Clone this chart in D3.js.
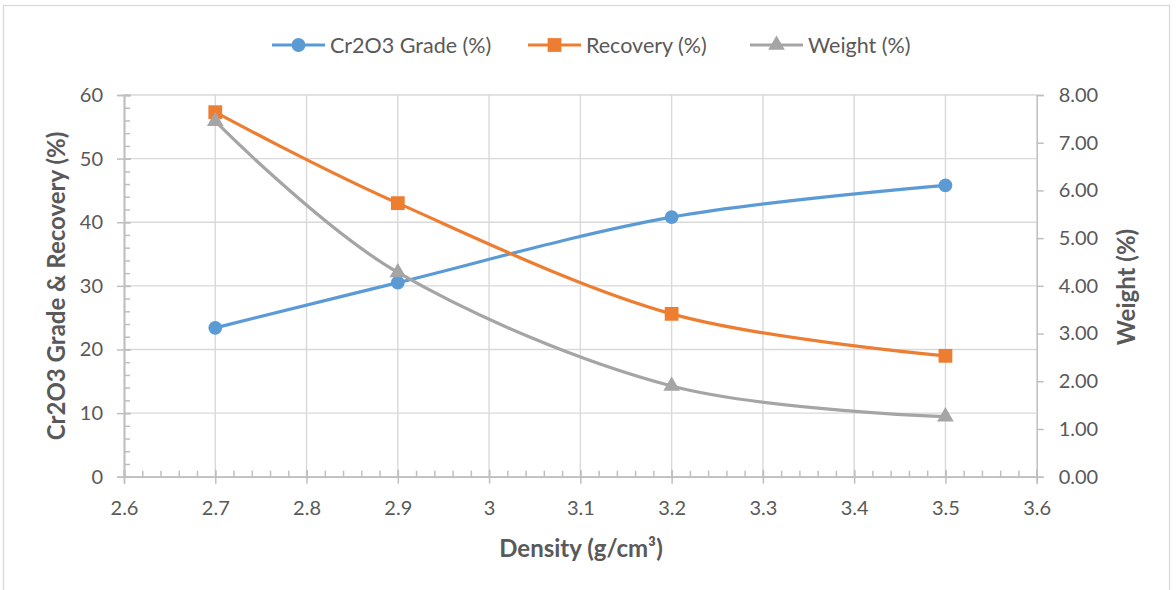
<!DOCTYPE html>
<html>
<head>
<meta charset="utf-8">
<script src="https://cdn.jsdelivr.net/npm/d3@7"></script>
<style>
  html, body { margin: 0; padding: 0; background: #fff; }
  svg { display: block; }
  text { font-family: Lato, "Open Sans", sans-serif; fill: #595959; }
</style>
</head>
<body>
<svg id="chart" width="1176" height="590"></svg>
<script>
// Density of each separation fraction (g/cm³)
const density = [2.7, 2.9, 3.2, 3.5];
// Cr2O3 grade of the float fraction (%)
const grade = [23.4, 30.5, 40.8, 45.8];
// Cr2O3 recovery (%)
const recovery = [57.3, 43.0, 25.6, 19.0];
// Mass yield (%), read against the right axis
const weight = [7.45, 4.28, 1.90, 1.26];

const xTicks = [2.6, 2.7, 2.8, 2.9, 3.0, 3.1, 3.2, 3.3, 3.4, 3.5, 3.6];
const leftTicks = [0, 10, 20, 30, 40, 50, 60];
const rightTicks = [0, 1, 2, 3, 4, 5, 6, 7, 8];

const seriesNames = ["Cr2O3 Grade (%)", "Recovery (%)", "Weight (%)"];
const colors = ["#5B9BD5", "#ED7D31", "#A5A5A5"];

const svg = d3.select("#chart");
const plot = { left: 124, right: 1036.7, top: 95, bottom: 476.7 };

const x = d3.scaleLinear().domain([2.6, 3.6]).range([plot.left, plot.right]);
const yL = d3.scaleLinear().domain([0, 60]).range([plot.bottom, plot.top]);
const yR = d3.scaleLinear().domain([0, 8]).range([plot.bottom, plot.top]);

// chart frame
svg.append("rect")
  .attr("x", 3.5).attr("y", 5.5).attr("width", 1166).attr("height", 600)
  .attr("fill", "none").attr("stroke", "#d9d9d9").attr("stroke-width", 1.3);

// gridlines
const grid = svg.append("g").attr("stroke", "#d9d9d9").attr("stroke-width", 1.4);
grid.selectAll(".gv").data(xTicks.slice(1, -1)).join("line")
  .attr("x1", d => x(d)).attr("x2", d => x(d))
  .attr("y1", plot.top).attr("y2", plot.bottom);
grid.selectAll(".gh").data(leftTicks.slice(1)).join("line")
  .attr("x1", plot.left).attr("x2", plot.right)
  .attr("y1", d => yL(d)).attr("y2", d => yL(d));

function styleAxis(g) {
  g.select(".domain").attr("stroke", "#bfbfbf").attr("stroke-width", 1.5);
  g.selectAll(".tick line").attr("stroke", "#bfbfbf").attr("stroke-width", 1.5);
  g.selectAll("text").attr("fill", "#595959").style("font-size", "20px")
    .style("font-family", "Lato, 'Open Sans', sans-serif");
}

// left axis: major ticks crossing, minor ticks inside
const minorLeft = d3.range(0, 60.001, 2);
svg.append("g").attr("transform", `translate(${plot.left},0)`)
  .call(d3.axisRight(yL).tickValues(minorLeft).tickSize(6).tickFormat(""))
  .call(styleAxis);
svg.append("g").attr("transform", `translate(${plot.left},0)`)
  .call(d3.axisRight(yL).tickValues(leftTicks).tickSize(7).tickFormat(""))
  .call(styleAxis);
svg.append("g").attr("transform", `translate(${plot.left},0)`)
  .call(d3.axisLeft(yL).tickValues(leftTicks).tickSize(7).tickPadding(14).tickFormat(d3.format("d")))
  .call(styleAxis);

// bottom axis
const minorX = d3.range(26, 36.001, 0.2).map(v => v / 10);
svg.append("g").attr("transform", `translate(0,${plot.bottom})`)
  .call(d3.axisTop(x).tickValues(minorX).tickSize(6).tickFormat(""))
  .call(styleAxis);
svg.append("g").attr("transform", `translate(0,${plot.bottom})`)
  .call(d3.axisTop(x).tickValues(xTicks).tickSize(7).tickFormat(""))
  .call(styleAxis);
svg.append("g").attr("transform", `translate(0,${plot.bottom})`)
  .call(d3.axisBottom(x).tickValues(xTicks).tickSize(7).tickPadding(17).tickFormat(d3.format("")))
  .call(styleAxis);

// right axis
svg.append("g").attr("transform", `translate(${plot.right},0)`)
  .call(d3.axisRight(yR).tickValues(rightTicks).tickSize(7).tickPadding(15).tickFormat(d3.format(".2f")))
  .call(styleAxis);

// axis titles
svg.append("text")
  .attr("transform", `translate(65,286) rotate(-90)`)
  .attr("text-anchor", "middle")
  .style("font-size", "24px").style("font-weight", "bold")
  .text("Cr2O3 Grade & Recovery (%)");
svg.append("text")
  .attr("transform", `translate(1135,287) rotate(-90)`)
  .attr("text-anchor", "middle")
  .style("font-size", "24px").style("font-weight", "bold")
  .text("Weight (%)");
svg.append("text")
  .attr("x", 581).attr("y", 557)
  .attr("text-anchor", "middle")
  .style("font-size", "24px").style("font-weight", "bold")
  .text("Density (g/cm³)");

// series
const series = [
  { values: grade, y: yL, shape: d3.symbolCircle, size: 150 },
  { values: recovery, y: yL, shape: d3.symbolSquare, size: 190 },
  { values: weight, y: yR, shape: d3.symbolTriangle, size: 120 }
];

const line = (yScale) => d3.line()
  .x(d => x(d[0])).y(d => yScale(d[1]))
  .curve(d3.curveCardinal.tension(0));

series.forEach((s, i) => {
  const pts = density.map((d, j) => [d, s.values[j]]);
  const g = svg.append("g");
  g.append("path").datum(pts)
    .attr("d", line(s.y))
    .attr("fill", "none").attr("stroke", colors[i]).attr("stroke-width", 3.2)
    .attr("stroke-linecap", "round");
  g.selectAll("path.m").data(pts).join("path").attr("class", "m")
    .attr("transform", d => `translate(${x(d[0])},${s.y(d[1])})`)
    .attr("d", d3.symbol(s.shape, s.size))
    .attr("fill", colors[i]);
});

// legend
const legendX = [272, 528, 750];
const legend = svg.append("g");
seriesNames.forEach((name, i) => {
  const lx = legendX[i];
  const g = legend.append("g").attr("transform", `translate(${lx},45)`);
  g.append("line").attr("x1", 0).attr("x2", 53).attr("y1", 0).attr("y2", 0)
    .attr("stroke", colors[i]).attr("stroke-width", 3.2);
  g.append("path").attr("transform", "translate(26.5,0)")
    .attr("d", d3.symbol(series[i].shape, series[i].size)).attr("fill", colors[i]);
  g.append("text").attr("x", 58).attr("y", 0).attr("dy", "0.35em")
    .style("font-size", "21.5px").text(name);
});
</script>
</body>
</html>
